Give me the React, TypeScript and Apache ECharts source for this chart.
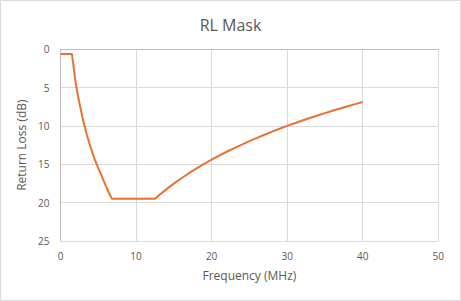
import React, { useEffect, useRef } from "react";
import * as echarts from "echarts";

const freqMHz = [0, 1.5, 1.7, 2.0, 2.5, 3.0, 3.5, 4.0, 4.5, 5.0, 5.5, 6.0, 6.5, 6.8, 12.5, 13, 14, 15, 16, 17, 18, 19, 20, 21, 22, 23, 24, 25, 26, 27, 28, 29, 30, 31, 32, 33, 34, 35, 36, 37, 38, 39, 40];
const returnLossDb = [0.6, 0.6, 2.0, 4.4, 7.0, 9.3, 11.2, 12.8, 14.3, 15.5, 16.65, 17.8, 18.9, 19.5, 19.5, 19.07, 18.27, 17.52, 16.82, 16.16, 15.54, 14.95, 14.4, 13.87, 13.36, 12.88, 12.42, 11.97, 11.55, 11.14, 10.74, 10.36, 9.99, 9.64, 9.29, 8.96, 8.64, 8.32, 8.02, 7.72, 7.43, 7.15, 6.87];
const xTicks = [0, 10, 20, 30, 40, 50];
const yTicks = [0, 5, 10, 15, 20, 25];

const FONT = "'Open Sans', sans-serif";
const GRAY_TEXT = "#595959";

export default function App() {
  const ref = useRef<HTMLDivElement>(null);
  useEffect(() => {
    document.body.style.margin = "0";
    if (!ref.current) return;
    const chart = echarts.init(ref.current, undefined, { renderer: "svg" });
    const data = freqMHz.map((f, i) => [f, returnLossDb[i]]);
    chart.setOption({
      animation: false,
      backgroundColor: "#ffffff",
      title: {
        text: "RL Mask",
        left: "center",
        top: 12,
        textStyle: { fontFamily: FONT, fontSize: 16, fontWeight: "normal", color: GRAY_TEXT },
      },
      graphic: [
        {
          type: "rect",
          shape: { x: 0.5, y: 0.5, width: 460, height: 300 },
          style: { fill: "none", stroke: "#d9d9d9", lineWidth: 1 },
          silent: true,
        },
      ],
      grid: { left: 60.5, right: 22.7, top: 49.3, bottom: 60 },
      xAxis: {
        type: "value",
        min: xTicks[0],
        max: xTicks[xTicks.length - 1],
        interval: 10,
        name: "Frequency (MHz)",
        nameLocation: "middle",
        nameGap: 28,
        nameTextStyle: { fontFamily: FONT, fontSize: 12, color: GRAY_TEXT },
        axisLine: { show: true, lineStyle: { color: "#bfbfbf", width: 1 } },
        axisTick: { show: false },
        axisLabel: { fontFamily: FONT, fontSize: 10, color: GRAY_TEXT, margin: 10 },
        splitLine: { show: true, lineStyle: { color: "#d9d9d9", width: 1 } },
      },
      yAxis: {
        type: "value",
        inverse: true,
        min: yTicks[0],
        max: yTicks[yTicks.length - 1],
        interval: 5,
        name: "Return Loss (dB)",
        nameLocation: "middle",
        nameGap: 29,
        nameRotate: 90,
        nameTextStyle: { fontFamily: FONT, fontSize: 12, color: GRAY_TEXT },
        axisLine: { show: true, lineStyle: { color: "#bfbfbf", width: 1 } },
        axisTick: { show: false },
        axisLabel: { fontFamily: FONT, fontSize: 10, color: GRAY_TEXT, margin: 11 },
        splitLine: { show: true, lineStyle: { color: "#d9d9d9", width: 1 } },
      },
      series: [
        {
          type: "line",
          data,
          showSymbol: false,
          symbol: "none",
          lineStyle: { color: "#e97132", width: 2 },
          itemStyle: { color: "#e97132" },
          smooth: false,
        },
      ],
    });
    return () => chart.dispose();
  }, []);
  return <div ref={ref} style={{ width: 461, height: 301 }} />;
}
